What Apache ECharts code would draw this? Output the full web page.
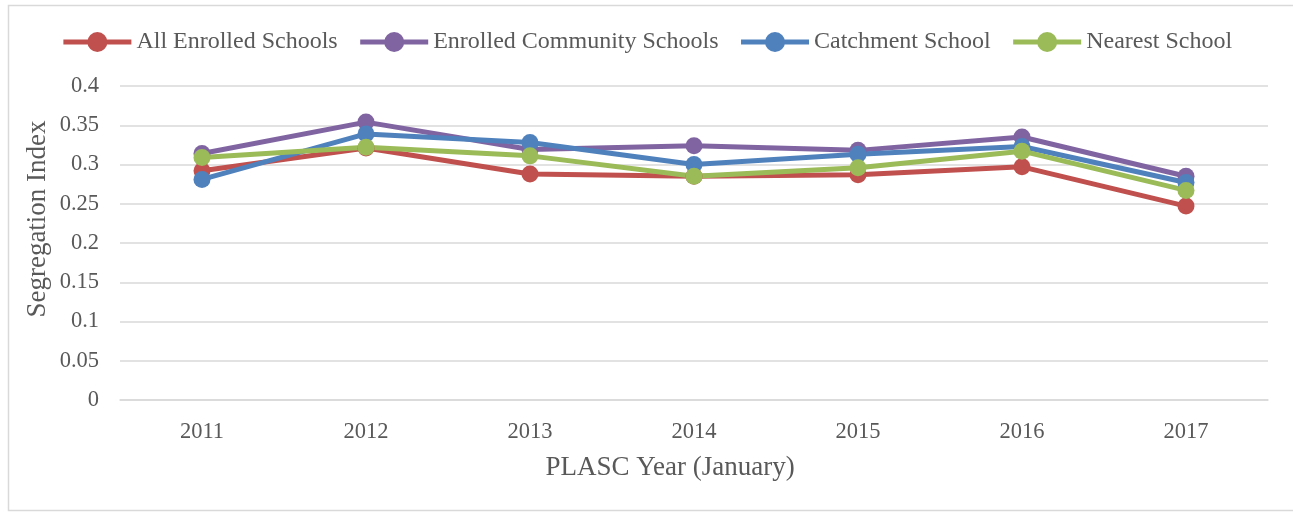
<!DOCTYPE html>
<html>
<head>
<meta charset="utf-8">
<script src="https://cdn.jsdelivr.net/npm/echarts@6/dist/echarts.min.js"></script>
<style>
html,body{margin:0;padding:0;background:#fff;}
#c{width:1293px;height:512px;}
</style>
</head>
<body>
<div id="c"></div>
<script>
var years = ['2011','2012','2013','2014','2015','2016','2017'];
var allEnrolled = [0.292, 0.321, 0.288, 0.285, 0.287, 0.297, 0.247];
var enrolledCommunity = [0.314, 0.354, 0.319, 0.324, 0.318, 0.335, 0.285];
var catchment = [0.281, 0.339, 0.328, 0.300, 0.313, 0.323, 0.277];
var nearest = [0.309, 0.322, 0.311, 0.285, 0.296, 0.317, 0.267];
var yTicks = [0, 0.05, 0.1, 0.15, 0.2, 0.25, 0.3, 0.35, 0.4];

var font = 'Liberation Serif, Times New Roman, serif';
var txt = '#595959';
function mk(name, data, color) {
  return {
    name: name, type: 'line', data: data,
    symbol: 'circle', symbolSize: 17,
    lineStyle: {width: 5, color: color},
    itemStyle: {color: color},
    emphasis: {disabled: true}
  };
}
var chart = echarts.init(document.getElementById('c'));
chart.setOption({
  animation: false,
  backgroundColor: '#fff',
  graphic: [{
    type: 'rect', silent: true, z: -10,
    shape: {x: 8.5, y: 5.5, width: 1300, height: 505},
    style: {fill: 'none', stroke: '#d9d9d9', lineWidth: 1.5}
  }, {
    type: 'text', silent: true,
    x: 38, y: 219, rotation: Math.PI / 2,
    style: {text: 'Segregation Index', align: 'center', verticalAlign: 'middle',
      font: '27px Liberation Serif', fill: txt}
  }, {
    type: 'text', silent: true,
    x: 670, y: 468,
    style: {text: 'PLASC Year (January)', align: 'center', verticalAlign: 'middle',
      font: '27px Liberation Serif', fill: txt}
  }],
  legend: {
    top: 25, left: 'center',
    itemWidth: 68, itemHeight: 25, itemGap: 20,
    lineStyle: {width: 5},
    textStyle: {fontFamily: font, fontSize: 24, color: txt},
    data: ['All Enrolled Schools', 'Enrolled Community Schools', 'Catchment School', 'Nearest School']
  },
  grid: {left: 120, right: 25, top: 86, bottom: 112, containLabel: false},
  xAxis: {
    type: 'category', data: years, boundaryGap: true,
    axisLine: {show: true, lineStyle: {color: '#d9d9d9', width: 1.5}},
    axisTick: {show: false},
    axisLabel: {fontFamily: font, fontSize: 22.5, color: txt, margin: 21}
  },
  yAxis: {
    type: 'value', min: 0, max: 0.4, interval: 0.05,
    axisLine: {show: false}, axisTick: {show: false},
    splitLine: {lineStyle: {color: '#d9d9d9', width: 1.5}},
    axisLabel: {fontFamily: font, fontSize: 22.5, color: txt, margin: 21,
      formatter: function(v){ for (var i=0;i<yTicks.length;i++){ if (Math.abs(yTicks[i]-v)<1e-9) return String(yTicks[i]); } return ''; }}
  },
  series: [
    mk('All Enrolled Schools', allEnrolled, '#C0504D'),
    mk('Enrolled Community Schools', enrolledCommunity, '#8064A2'),
    mk('Catchment School', catchment, '#4F81BD'),
    mk('Nearest School', nearest, '#9BBB59')
  ]
});
</script>
</body>
</html>
